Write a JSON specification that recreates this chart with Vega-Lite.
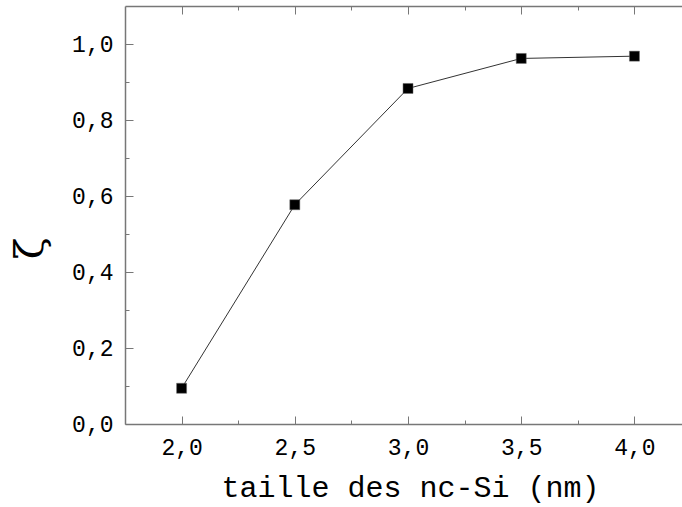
{
  "$schema": "https://vega.github.io/schema/vega-lite/v6.json",
  "autosize": "none",
  "width": 557,
  "height": 418,
  "padding": {"left": 125, "top": 6, "right": 0, "bottom": 83},
  "background": "white",
  "config": {"view": {"stroke": null}},
  "data": {"values": [
    {"taille": 2.0, "zeta": 0.094},
    {"taille": 2.5, "zeta": 0.577},
    {"taille": 3.0, "zeta": 0.883},
    {"taille": 3.5, "zeta": 0.962},
    {"taille": 4.0, "zeta": 0.968}
  ]},
  "layer": [
    {
      "mark": {"type": "line", "color": "#333333", "strokeWidth": 1},
      "encoding": {
        "x": {"field": "taille", "type": "quantitative",
          "scale": {"domain": [1.75, 4.21], "nice": false, "zero": false},
          "axis": {
            "orient": "bottom",
            "values": [2.0, 2.25, 2.5, 2.75, 3.0, 3.25, 3.5, 3.75, 4.0],
            "labelExpr": "datum.value * 2 % 1 == 0 ? replace(format(datum.value, '.1f'), '.', ',') : ''",
            "tickSize": {"condition": {"test": "datum.value * 2 % 1 == 0", "value": -8}, "value": -4},
            "labelPadding": 20,
            "labelFont": "Liberation Mono", "labelFontSize": 23, "labelColor": "#000000",
            "domainColor": "#777777", "tickColor": "#777777", "domainWidth": 1.5, "tickWidth": 1,
            "grid": false, "labelFlush": false, "labelOverlap": false,
            "title": "taille des nc-Si (nm)",
            "titleFont": "Liberation Mono", "titleFontSize": 30, "titleFontWeight": "normal",
            "titleColor": "#000000", "titlePadding": 9, "titleX": 285
          }
        },
        "y": {"field": "zeta", "type": "quantitative",
          "scale": {"domain": [0, 1.1], "nice": false},
          "axis": {
            "orient": "left",
            "values": [0, 0.1, 0.2, 0.3, 0.4, 0.5, 0.6, 0.7, 0.8, 0.9, 1.0],
            "labelExpr": "round(datum.value * 10) % 2 == 0 ? replace(format(datum.value, '.1f'), '.', ',') : ''",
            "tickSize": {"condition": {"test": "round(datum.value * 10) % 2 == 0", "value": -8}, "value": -4},
            "labelPadding": 20,
            "labelFont": "Liberation Mono", "labelFontSize": 23, "labelColor": "#000000",
            "domainColor": "#777777", "tickColor": "#777777", "domainWidth": 1.5, "tickWidth": 1,
            "grid": false, "labelOverlap": false,
            "title": "ζ",
            "titleFont": "DejaVu Serif", "titleFontSize": 40, "titleFontWeight": "normal",
            "titleColor": "#000000", "titleAngle": -90, "titleX": -95, "titleY": 242,
            "titleBaseline": "middle", "titleAlign": "center"
          }
        }
      }
    },
    {
      "mark": {"type": "square", "color": "#000000", "opacity": 1, "size": 100, "stroke": "#666666", "strokeWidth": 0.5},
      "encoding": {
        "x": {"field": "taille", "type": "quantitative",
          "axis": {
            "orient": "top",
            "values": [2.0, 2.25, 2.5, 2.75, 3.0, 3.25, 3.5, 3.75, 4.0],
            "labels": false,
            "tickSize": {"condition": {"test": "datum.value * 2 % 1 == 0", "value": -8}, "value": -4},
            "domainColor": "#777777", "tickColor": "#777777", "domainWidth": 1.5, "tickWidth": 1,
            "grid": false, "title": null
          }
        },
        "y": {"field": "zeta", "type": "quantitative"}
      }
    }
  ],
  "resolve": {"axis": {"x": "independent"}}
}
